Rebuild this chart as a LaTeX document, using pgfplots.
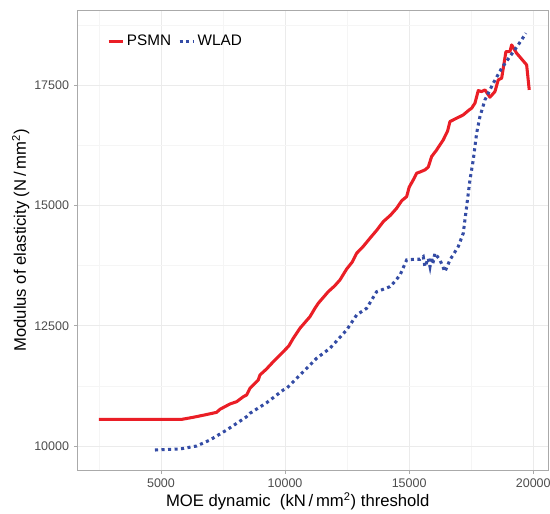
\documentclass[border=0pt]{standalone}
\usepackage{pgfplots}
\pgfplotsset{compat=1.18}
\usepackage{fontspec}
\setmainfont{Liberation Sans}
\definecolor{psmn}{RGB}{234,30,38}
\definecolor{wlad}{RGB}{52,76,165}
\definecolor{tickgray}{RGB}{77,77,77}
\definecolor{gridmaj}{RGB}{235,235,235}
\definecolor{gridmin}{RGB}{245,245,245}
\definecolor{frame}{RGB}{170,170,170}
\begin{document}
\begin{tikzpicture}
\useasboundingbox (0,0) rectangle (396pt,369.36pt);
\begin{axis}[
  at={(55.94pt,30.96pt)}, anchor=south west,
  scale only axis, width=339.3pt, height=330.7pt,
  xmin=1644, xmax=20633, ymin=9501, ymax=19051,
  xtick={5000,10000,15000,20000},
  ytick={10000,12500,15000,17500},
  minor xtick={2500,7500,12500,17500},
  minor ytick={11250,13750,16250,18750},
  grid=both,
  major grid style={gridmaj, line width=0.6pt},
  minor grid style={gridmin, line width=0.5pt},
  axis line style={frame, line width=0.7pt},
  tick align=outside, xtick pos=bottom, ytick pos=left,
  major tick length=2.7pt, minor tick length=0pt,
  major tick style={frame, line width=0.6pt},
  /pgf/number format/assume math mode=true,
  /pgf/number format/1000 sep={},
  scaled ticks=false,
  tick label style={font=\fontsize{9}{10}\selectfont, text=tickgray},
  xlabel={MOE dynamic\ \ (kN\,/\,mm\textsuperscript{2}) threshold},
  ylabel={Modulus of elasticity (N\,/\,mm\textsuperscript{2})},
  every axis x label/.style={at={(axis description cs:0.467,-0.0675)}, anchor=center, font=\fontsize{12}{14}\selectfont},
  every axis y label/.style={at={(axis description cs:-0.1207,0.5)}, rotate=90, anchor=center, font=\fontsize{12}{14}\selectfont},
  legend style={at={(axis description cs:0.062,0.9334)}, anchor=west, draw=none, fill=none,
    font=\fontsize{11}{13}\selectfont, inner sep=0pt,
    /tikz/every even column/.append style={column sep=3pt}},
  legend columns=-1,
  legend image code/.code={\draw[#1] (0pt,0pt) -- (10pt,0pt);},
]
\addplot[psmn, line width=2.2pt, line join=round] coordinates {
(2500,10555) (3500,10555) (4500,10555) (5850,10555) (6300,10597) (6800,10650)
(7244,10700) (7377,10763) (7780,10874) (8050,10921) (8316,11025) (8453,11061)
(8586,11200) (8920,11373) (8989,11477) (9250,11600) (9526,11753) (9929,11961)
(10150,12080) (10331,12240) (10600,12448) (11003,12689) (11200,12860) (11338,12968)
(11741,13209) (12000,13330) (12212,13453) (12482,13680) (12700,13820) (12885,14008)
(13150,14150) (13421,14320) (13700,14490) (13957,14665) (14250,14800) (14496,14944)
(14700,15100) (14899,15185) (15000,15380) (15165,15532) (15302,15672) (15450,15700)
(15636,15741) (15771,15800) (15905,16018) (16100,16150) (16374,16365) (16550,16550)
(16644,16745) (16914,16816) (17050,16850) (17180,16884) (17400,16980) (17518,17024)
(17651,17128) (17785,17390) (17921,17369) (18054,17404) (18255,17252) (18457,17369)
(18590,17612) (18727,17647) (18900,18201) (19061,18201) (19130,18340) (19331,18167)
(19734,17924) (19839,17404)
};
\addlegendentry{PSMN}
\addplot[wlad, line width=2.2pt, dash pattern=on 2.2pt off 2.5pt] coordinates {
(4758,9917) (5766,9938) (6438,10000) (6974,10125) (7647,10333) (8453,10610)
(8586,10680) (9259,10900) (9927,11165) (10065,11200) (10600,11477) (11272,11824)
(11809,12032) (12482,12413) (12885,12725) (13288,12864) (13691,13209) (13957,13259)
(14226,13313) (14360,13384) (14629,13550) (14899,13869) (15233,13883) (15435,13883)
(15568,13937) (15636,13729) (15770,13900) (15840,13730) (15905,13930) (15950,13780)
(16039,14008) (16240,13869) (16442,13625) (16644,13869) (16978,14145) (17180,14424)
(17316,14977) (17450,15532) (17583,15948) (17719,16504) (17853,16849) (18054,17196)
(18389,17543) (18727,17855) (19061,18097) (19396,18340) (19706,18584)
};
\addlegendentry{WLAD}
\end{axis}
\end{tikzpicture}
\end{document}
